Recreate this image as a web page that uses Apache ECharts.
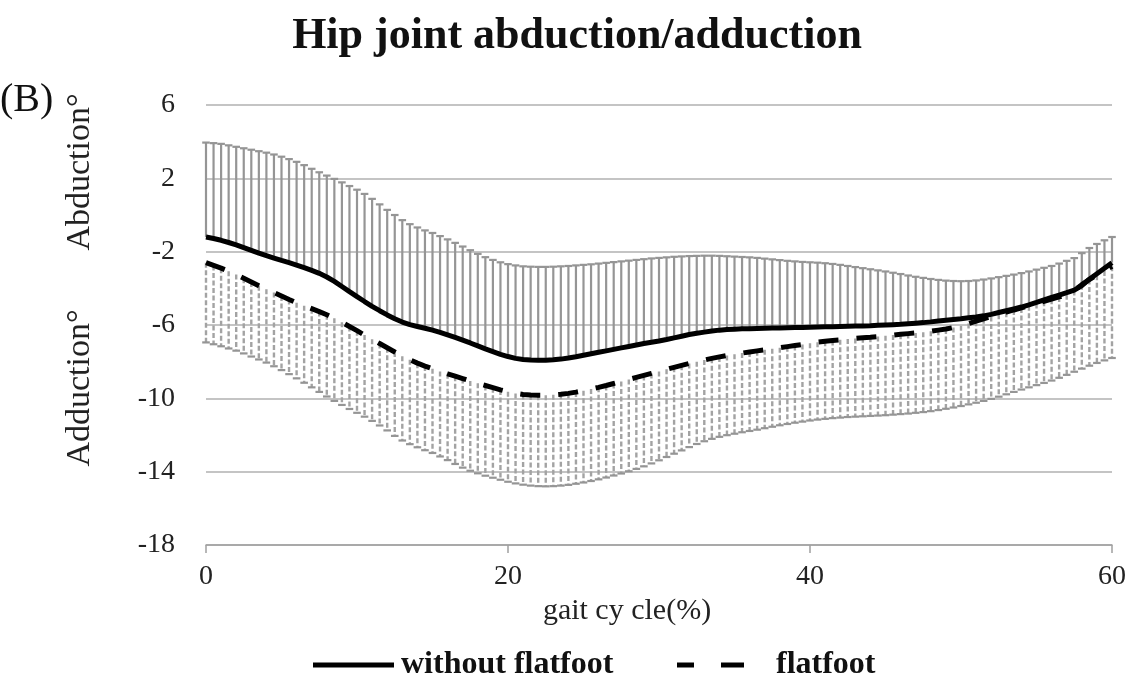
<!DOCTYPE html>
<html>
<head>
<meta charset="utf-8">
<script src="https://cdn.jsdelivr.net/npm/echarts@6/dist/echarts.min.js"></script>
<style>html,body{margin:0;padding:0;background:#fff;}#c{width:1129px;height:683px;}</style>
</head>
<body>
<div id="c"></div>
<script>
// gait cycle positions (%), every 0.5 %
const gait = Array.from({length: 121}, (_, i) => i * 0.5);

// without flatfoot: mean and mean + SD (upper bar ends)
const meanNormal = [
-1.20,-1.28,-1.38,-1.50,-1.63,-1.78,-1.93,-2.08,-2.22,-2.35,
-2.48,-2.60,-2.73,-2.87,-3.02,-3.18,-3.38,-3.62,-3.90,-4.18,
-4.45,-4.72,-4.98,-5.22,-5.45,-5.66,-5.84,-5.98,-6.08,-6.18,
-6.28,-6.40,-6.54,-6.68,-6.83,-6.98,-7.14,-7.30,-7.45,-7.60,
-7.72,-7.82,-7.88,-7.91,-7.92,-7.92,-7.90,-7.86,-7.80,-7.73,
-7.65,-7.57,-7.49,-7.41,-7.33,-7.25,-7.17,-7.09,-7.01,-6.94,
-6.87,-6.79,-6.70,-6.61,-6.52,-6.45,-6.39,-6.33,-6.28,-6.25,
-6.23,-6.21,-6.20,-6.19,-6.18,-6.17,-6.16,-6.15,-6.14,-6.13,
-6.12,-6.11,-6.10,-6.09,-6.08,-6.07,-6.06,-6.05,-6.04,-6.02,
-6.00,-5.98,-5.96,-5.93,-5.90,-5.87,-5.83,-5.78,-5.74,-5.70,
-5.66,-5.61,-5.56,-5.50,-5.42,-5.32,-5.22,-5.12,-5.02,-4.90,
-4.77,-4.63,-4.50,-4.37,-4.24,-4.10,-3.85,-3.50,-3.20,-2.90,
-2.60];
const upperNormal = [
3.95,3.92,3.88,3.80,3.72,3.64,3.56,3.48,3.40,3.30,
3.18,3.05,2.90,2.72,2.52,2.33,2.15,1.97,1.78,1.58,
1.38,1.15,0.88,0.58,0.28,0.00,-0.28,-0.50,-0.68,-0.84,
-0.98,-1.15,-1.33,-1.52,-1.72,-1.92,-2.12,-2.30,-2.45,-2.58,
-2.68,-2.75,-2.80,-2.82,-2.83,-2.83,-2.82,-2.80,-2.78,-2.75,
-2.72,-2.69,-2.65,-2.61,-2.57,-2.53,-2.49,-2.45,-2.41,-2.37,
-2.34,-2.31,-2.28,-2.26,-2.24,-2.23,-2.22,-2.22,-2.23,-2.25,
-2.27,-2.29,-2.31,-2.34,-2.38,-2.42,-2.46,-2.50,-2.53,-2.56,
-2.58,-2.60,-2.63,-2.67,-2.72,-2.78,-2.84,-2.90,-2.96,-3.02,
-3.08,-3.15,-3.22,-3.30,-3.37,-3.43,-3.49,-3.54,-3.58,-3.60,
-3.61,-3.60,-3.57,-3.52,-3.46,-3.39,-3.32,-3.25,-3.17,-3.08,
-2.98,-2.88,-2.78,-2.65,-2.50,-2.35,-2.08,-1.80,-1.58,-1.38,
-1.20];

// flatfoot: mean and mean - SD (lower bar ends)
const meanFlat = [
-2.60,-2.75,-2.90,-3.07,-3.25,-3.45,-3.65,-3.86,-4.05,-4.23,
-4.42,-4.61,-4.79,-4.95,-5.11,-5.27,-5.44,-5.63,-5.85,-6.08,
-6.31,-6.55,-6.78,-7.01,-7.24,-7.47,-7.70,-7.90,-8.08,-8.24,
-8.39,-8.53,-8.66,-8.79,-8.92,-9.05,-9.18,-9.30,-9.42,-9.54,
-9.64,-9.73,-9.79,-9.82,-9.83,-9.83,-9.81,-9.78,-9.73,-9.66,
-9.58,-9.49,-9.40,-9.30,-9.19,-9.08,-8.97,-8.86,-8.75,-8.64,
-8.53,-8.42,-8.31,-8.20,-8.10,-8.00,-7.91,-7.82,-7.74,-7.66,
-7.59,-7.53,-7.47,-7.41,-7.35,-7.29,-7.24,-7.18,-7.12,-7.06,
-7.00,-6.94,-6.89,-6.85,-6.81,-6.77,-6.73,-6.70,-6.67,-6.63,
-6.59,-6.55,-6.51,-6.47,-6.43,-6.39,-6.34,-6.28,-6.22,-6.14,
-6.04,-5.92,-5.79,-5.66,-5.54,-5.42,-5.30,-5.18,-5.07,-4.95,
-4.83,-4.71,-4.59,-4.47,-4.35,-4.12,-3.80,-3.52,-3.28,-3.05,
-2.80];
const lowerFlat = [
-6.95,-7.05,-7.16,-7.28,-7.40,-7.55,-7.72,-7.88,-8.05,-8.25,
-8.46,-8.68,-8.91,-9.15,-9.40,-9.65,-9.90,-10.14,-10.36,-10.58,
-10.79,-11.00,-11.23,-11.48,-11.75,-12.05,-12.30,-12.50,-12.67,-12.83,
-12.98,-13.17,-13.37,-13.58,-13.78,-13.95,-14.09,-14.22,-14.33,-14.44,
-14.55,-14.64,-14.71,-14.76,-14.79,-14.80,-14.79,-14.76,-14.72,-14.66,
-14.59,-14.51,-14.42,-14.32,-14.21,-14.10,-13.98,-13.85,-13.71,-13.55,
-13.38,-13.20,-13.02,-12.84,-12.66,-12.49,-12.34,-12.21,-12.10,-12.01,
-11.93,-11.85,-11.78,-11.71,-11.63,-11.55,-11.47,-11.40,-11.33,-11.27,
-11.21,-11.16,-11.12,-11.08,-11.05,-11.02,-11.00,-10.98,-10.96,-10.94,
-10.92,-10.89,-10.86,-10.83,-10.79,-10.75,-10.70,-10.64,-10.57,-10.50,
-10.42,-10.33,-10.24,-10.14,-10.03,-9.91,-9.78,-9.65,-9.52,-9.40,
-9.28,-9.16,-9.03,-8.88,-8.72,-8.55,-8.38,-8.22,-8.07,-7.93,
-7.80];

const yTicks = [-18, -14, -10, -6, -2, 2, 6];
const xTicks = [0, 20, 40, 60];
const seriesNames = ['without flatfoot', 'flatfoot'];

const SERIF = '"Liberation Serif","Times New Roman",serif';

function errorBars(dashed) {
  return function (params, api) {
    const x = api.value(0), m = api.value(1), b = api.value(2);
    const p0 = api.coord([x, m]);
    const p1 = api.coord([x, b]);
    const hw = 3.8;
    return {
      type: 'group',
      children: [
        { type: 'line', shape: { x1: p0[0], y1: p0[1], x2: p1[0], y2: p1[1] },
          style: { stroke: dashed ? '#a3a3a3' : '#959595', lineWidth: dashed ? 2.4 : 2.2, lineDash: dashed ? [5, 2.5] : null } },
        { type: 'line', shape: { x1: p1[0] - hw, y1: p1[1], x2: p1[0] + hw, y2: p1[1] },
          style: { stroke: '#959595', lineWidth: 2.2 } }
      ]
    };
  };
}

const chart = echarts.init(document.getElementById('c'), null, { renderer: 'canvas' });
chart.setOption({
  backgroundColor: '#fff',
  animation: false,
  title: {
    text: 'Hip joint abduction/adduction',
    left: 572, top: 10, textAlign: 'center',
    textStyle: { fontFamily: SERIF, fontWeight: 'bold', fontSize: 44, color: '#111' }
  },
  grid: { left: 206, right: 13, top: 105, bottom: 138 },
  xAxis: {
    type: 'value', min: 0, max: 60, interval: 20,
    axisLine: { show: true, onZero: false, lineStyle: { color: '#a0a0a0', width: 1.5 } },
    axisTick: { show: true, length: 8, lineStyle: { color: '#a0a0a0', width: 1.5 } },
    splitLine: { show: false },
    axisLabel: { fontFamily: SERIF, fontSize: 28, color: '#222', margin: 18,
      formatter: v => xTicks.includes(v) ? String(v) : '' },
    name: 'gait cy cle(%)', nameLocation: 'middle', nameGap: 46,
    nameTextStyle: { fontFamily: SERIF, fontSize: 30, color: '#222', padding: [0, 64, 0, 0] }
  },
  yAxis: {
    type: 'value', min: -18, max: 6, interval: 4,
    axisLine: { show: false }, axisTick: { show: false },
    splitLine: { lineStyle: { color: '#b0b0b0', width: 1.5 } },
    axisLabel: { fontFamily: SERIF, fontSize: 28, color: '#222', margin: 31,
      formatter: v => yTicks.includes(v) ? String(v) : '' }
  },
  graphic: [
    { type: 'text', left: 0, top: 80, style: { text: '(B)', font: '40px ' + SERIF, fill: '#111' } },
    { type: 'text', x: 80, y: 172, rotation: Math.PI / 2, style: { text: 'Abduction°', font: '34px ' + SERIF, fill: '#222', textAlign: 'center', textVerticalAlign: 'middle' } },
    { type: 'text', x: 80, y: 388, rotation: Math.PI / 2, style: { text: 'Adduction°', font: '34px ' + SERIF, fill: '#222', textAlign: 'center', textVerticalAlign: 'middle' } },
    // legend
    { type: 'line', shape: { x1: 313, y1: 665, x2: 394, y2: 665 }, style: { stroke: '#000', lineWidth: 5 } },
    { type: 'text', x: 401, y: 665, style: { text: seriesNames[0], font: 'bold 32px ' + SERIF, fill: '#111', textVerticalAlign: 'middle' } },
    { type: 'line', shape: { x1: 677, y1: 665, x2: 694, y2: 665 }, style: { stroke: '#000', lineWidth: 5 } },
    { type: 'line', shape: { x1: 721, y1: 665, x2: 744, y2: 665 }, style: { stroke: '#000', lineWidth: 5 } },
    { type: 'text', x: 776, y: 665, style: { text: seriesNames[1], font: 'bold 32px ' + SERIF, fill: '#111', textVerticalAlign: 'middle' } }
  ],
  series: [
    { type: 'custom', name: 'sdNormal', renderItem: errorBars(false), z: 2,
      encode: { x: 0, y: [1, 2] },
      data: gait.map((x, i) => [x, meanNormal[i], upperNormal[i]]) },
    { type: 'custom', name: 'sdFlat', renderItem: errorBars(true), z: 2,
      encode: { x: 0, y: [1, 2] },
      data: gait.map((x, i) => [x, meanFlat[i], lowerFlat[i]]) },
    { type: 'line', name: seriesNames[0], symbol: 'none', z: 5,
      lineStyle: { color: '#000', width: 5 }, itemStyle: { color: '#000' },
      data: gait.map((x, i) => [x, meanNormal[i]]) },
    { type: 'line', name: seriesNames[1], symbol: 'none', z: 6,
      lineStyle: { color: '#000', width: 5, type: [20, 18] }, itemStyle: { color: '#000' },
      data: gait.map((x, i) => [x, meanFlat[i]]) }
  ]
});
</script>
</body>
</html>
